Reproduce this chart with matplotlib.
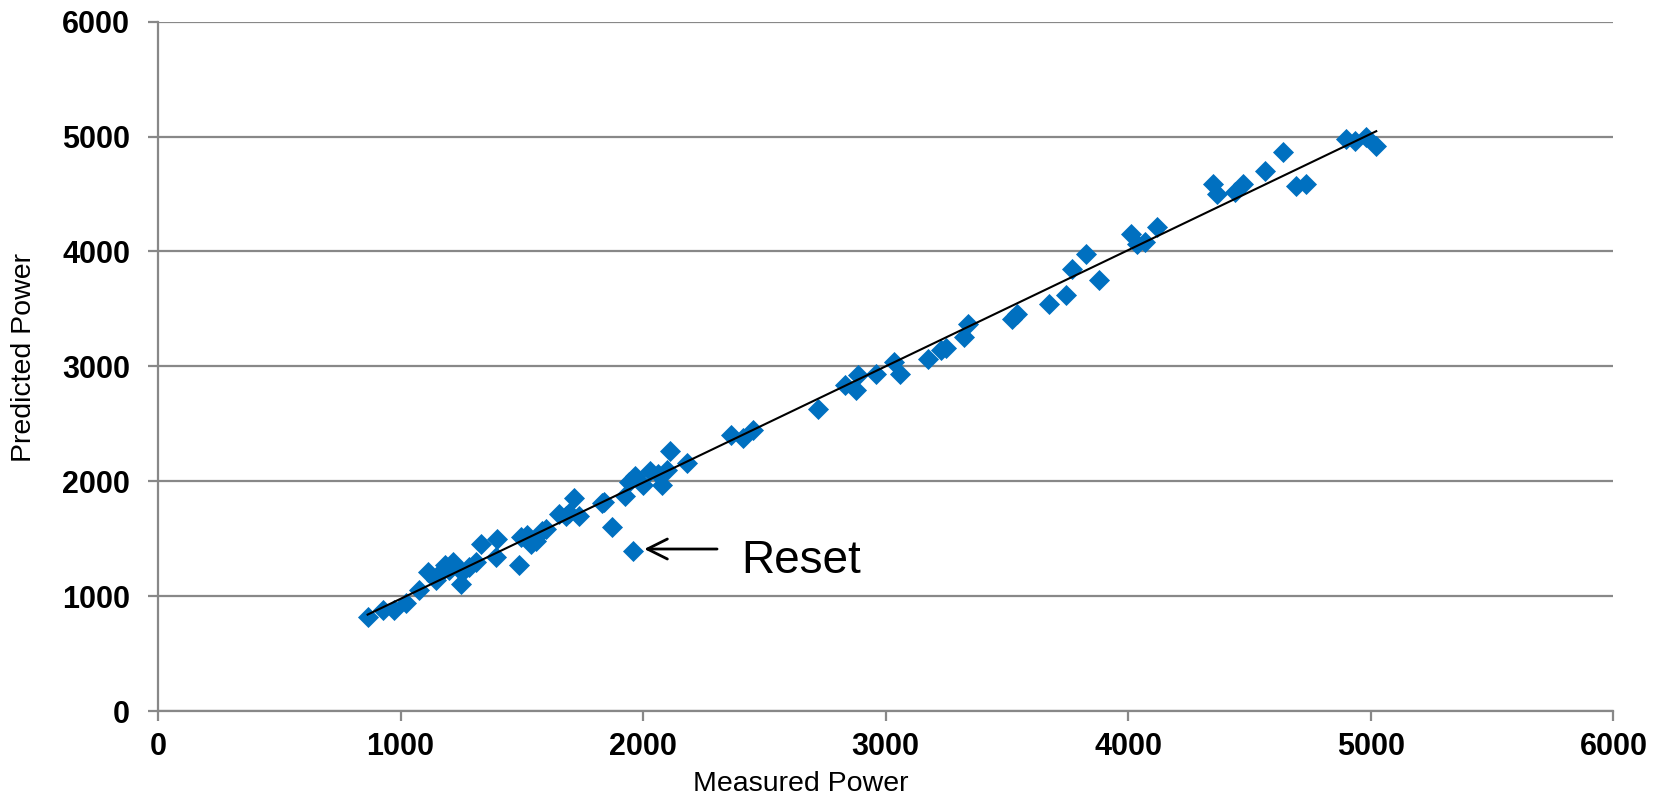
import numpy as np
import matplotlib.pyplot as plt

# Measured vs predicted power readings
measured = [864, 926, 974, 1022, 1077, 1111, 1145, 1160, 1183, 1200, 1217, 1248, 1255,
            1280, 1310, 1330, 1392, 1399, 1488, 1495, 1520, 1536, 1560, 1584, 1600,
            1652, 1680, 1693, 1714, 1734, 1830, 1840, 1871, 1926, 1940, 1967, 2001,
            2029, 2060, 2077, 2100, 2111, 2180, 2364, 2412, 2453,
            2721, 2830, 2878, 2885, 2960, 3036, 3057, 3174, 3228, 3250, 3324, 3338,
            3522, 3543, 3673, 3741, 3768, 3824, 3878, 4009, 4036, 4070, 4118,
            4351, 4365, 4440, 4474, 4563, 4638, 4693, 4734, 4899, 4933, 4981, 5022]
predicted = [822, 879, 879, 937, 1052, 1210, 1138, 1190, 1267, 1230, 1296, 1109, 1210,
             1250, 1296, 1454, 1339, 1497, 1267, 1511, 1530, 1454, 1480, 1569, 1580,
             1713, 1700, 1727, 1856, 1698, 1813, 1820, 1598, 1871, 1990, 2043, 1971,
             2086, 2060, 1971, 2100, 2259, 2158, 2402, 2374, 2445,
             2632, 2835, 2791, 2922, 2936, 3038, 2936, 3067, 3139, 3160, 3255, 3371,
             3414, 3458, 3545, 3617, 3849, 3980, 3748, 4154, 4067, 4081, 4212,
             4588, 4501, 4516, 4588, 4704, 4864, 4574, 4588, 4980, 4965, 4994, 4922]

reset_point = (1957, 1393)
ticks = [0, 1000, 2000, 3000, 4000, 5000, 6000]

blue = '#0070C0'
grid_color = '#888888'
font = 'Liberation Sans'

fig = plt.figure(figsize=(16.53, 7.97), dpi=100)
ax = fig.add_axes([0.0956, 0.1079, 0.9761 - 0.0956, 0.9728 - 0.1079])

ax.scatter(measured + [reset_point[0]], predicted + [reset_point[1]],
           marker='D', s=115, color=blue, linewidths=0, zorder=3)

# linear trend line over the data range
coef = np.polyfit(measured, predicted, 1)
xs = np.array([min(measured), max(measured)])
ax.plot(xs, np.polyval(coef, xs), color='black', lw=1.5, zorder=4)

ax.set_xlim(0, 6000)
ax.set_ylim(0, 6000)
ax.set_xticks(ticks)
ax.set_yticks(ticks)
ax.yaxis.grid(True, color=grid_color, lw=1.6)
ax.set_axisbelow(True)

for side in ['top', 'right']:
    ax.spines[side].set_visible(False)
for side in ['left', 'bottom']:
    ax.spines[side].set_color(grid_color)
    ax.spines[side].set_linewidth(1.6)

ax.tick_params(axis='both', color=grid_color, width=1.6, length=7, direction='out')
ax.tick_params(axis='y', pad=13)
ax.tick_params(axis='x', pad=8)
for lab in ax.get_xticklabels() + ax.get_yticklabels():
    lab.set_fontfamily(font)
    lab.set_fontweight('bold')
    lab.set_fontsize(22)

ax.set_xlabel('Measured Power', fontsize=20.5, fontfamily=font, va='baseline')
ax.xaxis.set_label_coords(0.4418, -0.1165)
ax.set_ylabel('Predicted Power', fontsize=20.5, fontfamily=font)
ax.yaxis.set_label_coords(-0.083, 0.513)

ax.annotate('', xy=(1993, 1410), xytext=(2316, 1410),
            arrowprops=dict(arrowstyle='->', color='black', lw=2, mutation_scale=36))
ax.text(2405, 1201, 'Reset', fontsize=33, fontfamily=font, va='baseline', ha='left')

fig.savefig('out.png', dpi=100, facecolor='white')
